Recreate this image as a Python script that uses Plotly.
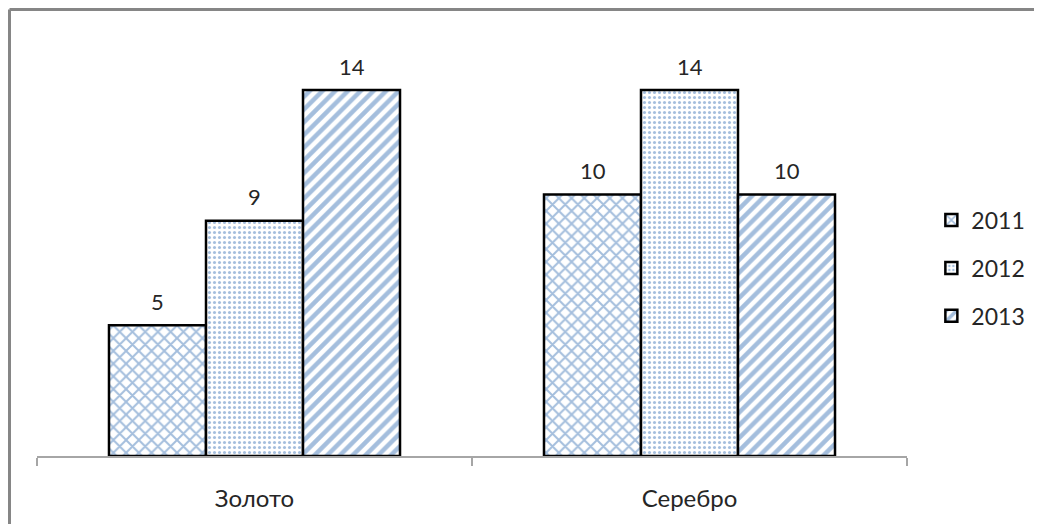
import plotly.graph_objects as go

categories = ["Золото", "Серебро"]
years = ["2011", "2012", "2013"]
values_2011 = [5, 10]
values_2012 = [9, 14]
values_2013 = [14, 10]
series = [values_2011, values_2012, values_2013]
shapes_pat = ["x", ".", "/"]
pat_size = [9, 5, 9]
pat_solid = [0.4, 0.3, 0.5]

FONT = "Lato, Calibri, sans-serif"
BLUE = "#4A7EBB"

# figure sits at (8, 8) in the page (body margin)
W, H = 1034, 516
L, R, T, B = 29, 135, 12, 68
PW, PH = W - L - R, H - T - B
PX_PER_UNIT = 26.14

fig = go.Figure()
for i, (yr, vals) in enumerate(zip(years, series)):
    fig.add_trace(go.Bar(
        name=yr, x=categories, y=vals,
        legendgroup=yr,
        marker=dict(color="white",
                    line=dict(color="black", width=2.5),
                    pattern=dict(shape=shapes_pat[i], fgcolor=BLUE, bgcolor="white",
                                 size=pat_size[i], solidity=pat_solid[i])),
    ))

# value labels
bar_px = 97
for i, vals in enumerate(series):
    for c, v in zip(categories, vals):
        fig.add_annotation(x=c, y=v, xref="x", yref="y", text=str(v), showarrow=False,
                           xshift=(i - 1) * bar_px, yshift=24,
                           font=dict(family=FONT, size=22, color="#262626"))

# outer border (left and top) at the figure edge
bx = (1.5 - L) / PW
by = 1 + (T - 1.5) / PH
fig.add_shape(type="line", xref="paper", yref="paper", x0=bx, x1=1.3, y0=by, y1=by,
              line=dict(color="#868686", width=3))
fig.add_shape(type="line", xref="paper", yref="paper", x0=bx, x1=bx, y0=-0.3, y1=by,
              line=dict(color="#868686", width=3))

fig.update_layout(
    width=W, height=H,
    margin=dict(l=L, r=R, t=T, b=B, autoexpand=False),
    paper_bgcolor="white", plot_bgcolor="white",
    barmode="group", bargap=0.331, bargroupgap=0,
    font=dict(family=FONT, size=22, color="#262626"),
    showlegend=True,
    legend=dict(x=1.028, xanchor="left", y=0.431, yanchor="middle",
                font=dict(family=FONT, size=23, color="#262626"),
                tracegroupgap=15, itemwidth=30, bgcolor="rgba(0,0,0,0)"),
)
fig.update_xaxes(showline=True, linecolor="#A6A6A6", linewidth=1.5,
                 ticks="outside", tickson="boundaries", ticklen=8, tickcolor="#A6A6A6", tickwidth=1.5,
                 showgrid=False, ticklabelstandoff=20,
                 tickfont=dict(family=FONT, size=24, color="#262626"))
fig.update_yaxes(range=[0, PH / PX_PER_UNIT], visible=False, showgrid=False)

fig.write_html("out.html")
